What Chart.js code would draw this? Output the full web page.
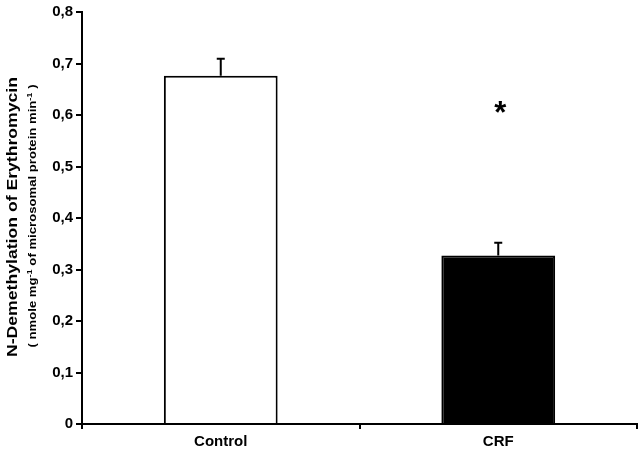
<!DOCTYPE html>
<html>
<head>
<meta charset="utf-8">
<script src="https://cdn.jsdelivr.net/npm/chart.js@4.4.1/dist/chart.umd.min.js"></script>
<style>
  html, body { margin: 0; padding: 0; background: #fff; }
  #wrap { width: 640px; height: 456px; }
</style>
</head>
<body>
<div id="wrap"><canvas id="chart"></canvas></div>
<script>
// data
const categories = ['Control', 'CRF'];
const meanValues = [0.676, 0.327];
const errorValues = [0.033, 0.025];
const barColors = ['#ffffff', '#000000'];
const significance = ['', '*'];
const starLevel = 0.607;
const yMin = 0;
const yMax = 0.8;
const yStep = 0.1;

const FONT = '"Liberation Sans", Arial, sans-serif';

// error bars (upper half only, like the original)
const errorBarPlugin = {
    id: 'errorBars',
    afterDatasetsDraw(chart) {
        const ctx = chart.ctx;
        const meta = chart.getDatasetMeta(0);
        const y = chart.scales.y;
        ctx.save();
        ctx.strokeStyle = '#000';
        ctx.lineWidth = 2;
        meta.data.forEach((bar, i) => {
            const top = y.getPixelForValue(meanValues[i]);
            const tip = y.getPixelForValue(meanValues[i] + errorValues[i]);
            ctx.beginPath();
            ctx.moveTo(bar.x, top);
            ctx.lineTo(bar.x, tip);
            ctx.moveTo(bar.x - 4, tip);
            ctx.lineTo(bar.x + 4, tip);
            ctx.stroke();
        });
        // significance marks
        ctx.fillStyle = '#000';
        ctx.font = 'bold 31px ' + FONT;
        ctx.textAlign = 'center';
        ctx.textBaseline = 'middle';
        meta.data.forEach((bar, i) => {
            if (significance[i]) {
                ctx.fillText(significance[i], bar.x + 2, y.getPixelForValue(starLevel) + 3);
            }
        });
        ctx.restore();
    }
};

// draws rotated text pieces stretched to a given length
function drawRotated(ctx, parts, baseX, centerY, length) {
    let total = 0;
    parts.forEach(p => {
        ctx.font = p.font;
        total += ctx.measureText(p.text).width;
    });
    ctx.save();
    ctx.translate(baseX, centerY);
    ctx.rotate(-Math.PI / 2);
    ctx.scale(length / total, 1);
    ctx.textAlign = 'left';
    ctx.textBaseline = 'alphabetic';
    let x = -total / 2;
    parts.forEach(p => {
        ctx.font = p.font;
        ctx.fillText(p.text, x, p.rise || 0);
        x += ctx.measureText(p.text).width;
    });
    ctx.restore();
}

// two-line y axis title with superscripts
const yTitlePlugin = {
    id: 'yTitle',
    afterDraw(chart) {
        const ctx = chart.ctx;
        ctx.save();
        ctx.fillStyle = '#000';
        drawRotated(ctx, [{ text: 'N-Demethylation of Erythromycin', font: 'bold 14px ' + FONT }], 17, 217, 280);
        const normal = 'bold 10px ' + FONT;
        const sup = 'bold 7px ' + FONT;
        drawRotated(ctx, [
            { text: '( nmole mg', font: normal },
            { text: '-1', font: sup, rise: -4 },
            { text: ' of microsomal protein min', font: normal },
            { text: '-1', font: sup, rise: -4 },
            { text: ' )', font: normal }
        ], 36, 216, 263);
        ctx.restore();
    }
};

new Chart(document.getElementById('chart'), {
    type: 'bar',
    data: {
        labels: categories,
        datasets: [{
            data: meanValues,
            backgroundColor: barColors,
            borderColor: '#000',
            borderWidth: 2,
            borderSkipped: 'bottom',
            barPercentage: 0.41,
            categoryPercentage: 1
        }]
    },
    options: {
        responsive: true,
        maintainAspectRatio: false,
        animation: false,
        devicePixelRatio: 1,
        layout: { padding: { top: 10, right: 3, left: 0, bottom: 0 } },
        plugins: {
            legend: { display: false },
            tooltip: { enabled: false }
        },
        scales: {
            x: {
                offset: true,
                grid: {
                    offset: true,
                    drawOnChartArea: false,
                    tickLength: 5,
                    color: '#000',
                    lineWidth: 2
                },
                border: { color: '#000', width: 2 },
                ticks: {
                    color: '#000',
                    padding: 4,
                    font: { family: FONT, size: 15, weight: 'bold' }
                },
                afterFit(scale) { scale.height = 32; }
            },
            y: {
                min: yMin,
                max: yMax,
                grid: {
                    drawOnChartArea: false,
                    tickLength: 6,
                    color: '#000',
                    lineWidth: 2
                },
                border: { color: '#000', width: 2 },
                ticks: {
                    stepSize: yStep,
                    color: '#000',
                    padding: 3,
                    font: { family: FONT, size: 15, weight: 'bold' },
                    callback: v => v === 0 ? '0' : v.toFixed(1).replace('.', ',')
                },
                afterFit(scale) { scale.width = 82; }
            }
        }
    },
    plugins: [errorBarPlugin, yTitlePlugin]
});
</script>
</body>
</html>
